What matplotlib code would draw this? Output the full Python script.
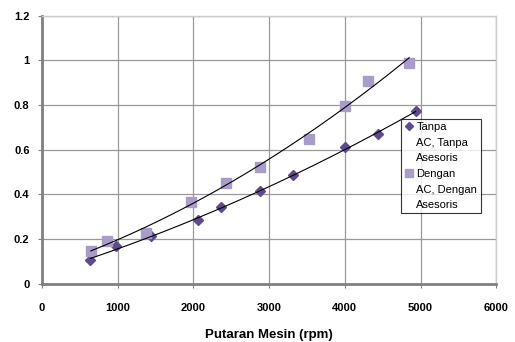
import numpy as np
import matplotlib.pyplot as plt
from matplotlib.lines import Line2D

# Konsumsi bahan bakar vs putaran mesin
rpm_tanpa = [640, 975, 1445, 2060, 2360, 2880, 3310, 4000, 4440, 4935]
bbm_tanpa = [0.105, 0.168, 0.213, 0.284, 0.343, 0.414, 0.485, 0.612, 0.669, 0.773]

rpm_dengan = [645, 860, 1375, 1970, 2425, 2880, 3530, 4000, 4310, 4850]
bbm_dengan = [0.147, 0.192, 0.228, 0.368, 0.452, 0.524, 0.650, 0.796, 0.910, 0.988]

label_tanpa = ["Tanpa", "AC, Tanpa", "Asesoris"]
label_dengan = ["Dengan", "AC, Dengan", "Asesoris"]

c_tanpa = '#5e4a8c'
c_dengan = '#a99cc8'

plt.rcParams['font.family'] = ['Liberation Sans', 'DejaVu Sans']

fig = plt.figure(figsize=(5.15, 3.42), dpi=100)
ax = fig.add_axes([0.0816, 0.170, 0.882, 0.784])

h1, = ax.plot(rpm_tanpa, bbm_tanpa, linestyle='none', marker='D', markersize=5,
              color=c_tanpa, zorder=3)
h2, = ax.plot(rpm_dengan, bbm_dengan, linestyle='none', marker='s', markersize=6.5,
              color=c_dengan, zorder=3)

# garis trend polinomial orde 2
for xs, ys in [(rpm_tanpa, bbm_tanpa), (rpm_dengan, bbm_dengan)]:
    coef = np.polyfit(xs, ys, 2)
    xx = np.linspace(min(xs), max(xs), 200)
    ax.plot(xx, np.polyval(coef, xx), color='black', linewidth=0.8, zorder=4)

ax.set_xlim(0, 6000)
ax.set_ylim(0, 1.2)
ax.set_xticks(np.arange(0, 6001, 1000))
ax.set_yticks([0, 0.2, 0.4, 0.6, 0.8, 1, 1.2])
ax.set_yticklabels(['0', '0.2', '0.4', '0.6', '0.8', '1', '1.2'])
ax.grid(True, color='#999999', linewidth=0.9)
ax.set_axisbelow(True)

for s in ['top', 'right']:
    ax.spines[s].set_color('#cccccc')
    ax.spines[s].set_linewidth(1)
for s in ['left', 'bottom']:
    ax.spines[s].set_color('#808080')
    ax.spines[s].set_linewidth(2)

ax.tick_params(axis='both', length=3, color='#808080', labelsize=8)
ax.tick_params(axis='x', pad=11)
ax.tick_params(axis='y', pad=6)
for t in ax.get_xticklabels() + ax.get_yticklabels():
    t.set_fontweight('bold')

ax.set_xlabel("Putaran Mesin (rpm)", fontsize=9.5, fontweight='bold', labelpad=11)

# legenda: baris lanjutan tanpa simbol
kosong = Line2D([], [], linestyle='none', marker='none')
handles = [h1, kosong, kosong, h2, kosong, kosong]
labels = label_tanpa + label_dengan
leg = ax.legend(handles, labels, loc='upper left', bbox_to_anchor=(0.79, 0.615),
                fontsize=8, frameon=True, fancybox=False, edgecolor='black',
                handlelength=0.8, handletextpad=0.3, borderpad=0.3,
                labelspacing=0.5, borderaxespad=0, markerscale=0.8)
leg.get_frame().set_linewidth(0.8)

fig.savefig('out.png', dpi=100)
